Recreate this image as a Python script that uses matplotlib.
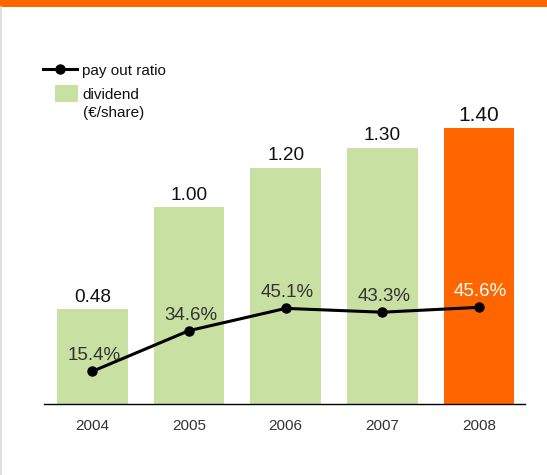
import matplotlib

matplotlib.use("Agg")
import matplotlib.pyplot as plt
from matplotlib.lines import Line2D
from matplotlib.patches import Rectangle

plt.rcParams["font.family"] = ["Liberation Sans", "DejaVu Sans"]

# ---- data ----------------------------------------------------------------
years = ["2004", "2005", "2006", "2007", "2008"]
dividend = [0.48, 1.00, 1.20, 1.30, 1.40]
payout = [15.4, 34.6, 45.1, 43.3, 45.6]
div_labels = ["0.48", "1.00", "1.20", "1.30", "1.40"]
pay_labels = ["15.4%", "34.6%", "45.1%", "43.3%", "45.6%"]

GREEN = "#C9E0A3"
ORANGE = "#FF6600"
TEXT = "#333333"

W, H = 547, 475
fig = plt.figure(figsize=(W / 100, H / 100), dpi=100)

# main axes placed in pixel geometry
left, right, top, base = 44, 525, 30, 404
ax = fig.add_axes([left / W, (H - base) / H, (right - left) / W, (base - top) / H])
x = list(range(len(years)))
colors = [GREEN] * (len(years) - 1) + [ORANGE]
ax.bar(x, dividend, width=0.73, color=colors, zorder=1)
ax.set_xlim(-0.5, 4.476)
ax.set_ylim(0, (base - top) / 197.0)
for sp in ["top", "right", "left"]:
    ax.spines[sp].set_visible(False)
ax.spines["bottom"].set_linewidth(1.0)
ax.set_yticks([])
ax.set_xticks(x)
ax.set_xticklabels(years, fontsize=11, color=TEXT)
ax.tick_params(axis="x", length=0, pad=10.5)
for i, (xi, v, lab) in enumerate(zip(x, dividend, div_labels)):
    fs = 15 if i == len(x) - 1 else 13.7
    ax.annotate(lab, (xi, v), xytext=(0, 2.5), textcoords="offset points",
                ha="center", va="bottom", fontsize=fs, color="#111111")

# payout ratio on a second scale
ax2 = ax.twinx()
ax2.set_ylim(0, (base - top) / 2.12)
ax2.set_xlim(ax.get_xlim())
ax2.plot(x, payout, color="black", linewidth=2.2, marker="o", markersize=6.5, zorder=3)
ax2.axis("off")
for i, (xi, v, lab) in enumerate(zip(x, payout, pay_labels)):
    col = "white" if i == len(x) - 1 else TEXT
    ax2.annotate(lab, (xi, v), xytext=(1.2, 5), textcoords="offset points",
                 ha="center", va="bottom", fontsize=13.5, color=col)

# overlay for frame decoration and legend
ov = fig.add_axes([0, 0, 1, 1], zorder=5)
ov.set_xlim(0, W)
ov.set_ylim(H, 0)
ov.axis("off")
ov.add_patch(Rectangle((0, 0), W, 7, color=ORANGE, lw=0))
ov.add_line(Line2D([0.5, 0.5], [7, H], color="#d9d9d9", lw=1.2))
ov.add_line(Line2D([43, 77], [68.5, 68.5], color="black", lw=2.2))
ov.add_line(Line2D([60], [68.5], marker="o", markersize=6.5, color="black"))
ov.text(82.5, 70.5, "pay out ratio", fontsize=11, color="#111111", va="center")
ov.add_patch(Rectangle((55, 85), 22.5, 16.5, color=GREEN, lw=0))
ov.text(82.5, 95, "dividend", fontsize=11, color="#111111", va="center")
ov.text(82.5, 113, "(€/share)", fontsize=11, color="#111111", va="center")

fig.savefig("out.png", dpi=100)
